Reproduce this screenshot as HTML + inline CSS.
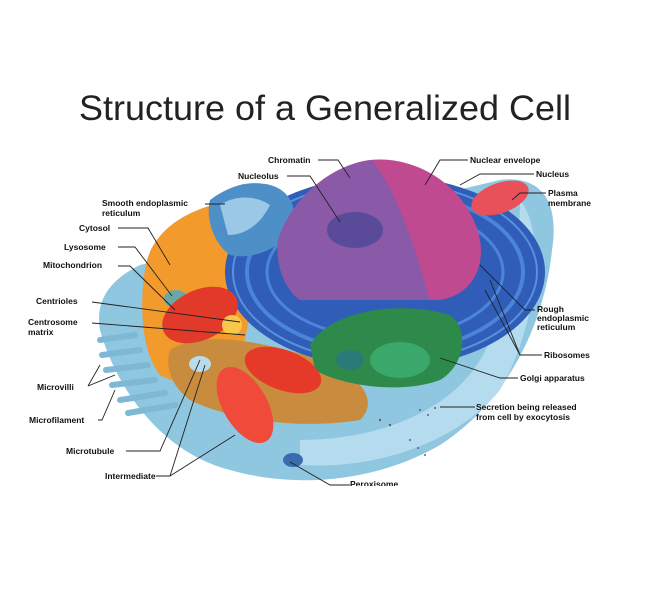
<!DOCTYPE html>
<html><head><meta charset="utf-8"><style>
html,body{margin:0;padding:0;background:#fff;}
svg{display:block;}
.l{font-family:"Liberation Sans",Arial,sans-serif;font-weight:bold;font-size:8.5px;fill:#111;}
.ln{stroke:#222;stroke-width:0.9;fill:none;}
</style></head><body>
<svg width="650" height="600" viewBox="0 0 650 600" xmlns="http://www.w3.org/2000/svg">
<rect width="650" height="600" fill="#fff"/>
<text x="325" y="120" text-anchor="middle" font-family="Liberation Sans, Arial, sans-serif" font-size="35" fill="#222" textLength="492" lengthAdjust="spacingAndGlyphs">Structure of a Generalized Cell</text>

<path d="M100,330 C95,300 110,280 140,265 L500,180 C540,175 560,200 552,250 C545,320 510,400 440,445 C380,480 300,490 230,470 C170,455 120,400 100,330 Z" fill="#8fc6e0"/>
<path d="M520,200 C545,230 540,320 500,390 C460,440 380,470 300,465 L300,440 C380,440 450,410 480,360 C510,310 520,250 520,200 Z" fill="#b5dcee"/>
<g stroke="#7fb8d4" stroke-width="6" stroke-linecap="round" fill="none">
<line x1="100" y1="340" x2="135" y2="335"/><line x1="102" y1="355" x2="140" y2="350"/>
<line x1="106" y1="370" x2="148" y2="365"/><line x1="112" y1="385" x2="155" y2="380"/>
<line x1="120" y1="400" x2="165" y2="393"/><line x1="128" y1="413" x2="175" y2="405"/>
</g>
<path d="M145,270 C150,230 190,205 240,200 L270,215 C260,260 250,320 240,360 C220,390 190,390 160,375 C140,350 140,300 145,270 Z" fill="#f39a2c"/>
<path d="M170,350 C200,330 260,340 320,360 C360,375 380,400 360,420 C300,430 230,420 190,400 C170,385 165,365 170,350 Z" fill="#c98c3e"/>
<ellipse cx="385" cy="272" rx="160" ry="96" fill="#2f5db8"/>
<ellipse cx="385" cy="272" rx="138" ry="80" fill="none" stroke="#4c84d8" stroke-width="4"/>
<ellipse cx="385" cy="272" rx="118" ry="66" fill="none" stroke="#4c84d8" stroke-width="3"/>
<ellipse cx="385" cy="272" rx="152" ry="90" fill="none" stroke="#5a90dc" stroke-width="2"/>
<path d="M210,200 C230,185 250,180 270,185 C290,190 300,210 290,230 C280,250 250,260 230,255 C215,245 205,220 210,200 Z" fill="#4f8fc8"/>
<path d="M220,205 C235,195 255,195 270,205 C260,225 245,235 228,235 Z" fill="#9cc8e8"/>
<path d="M278,240 C290,200 330,165 370,160 C420,155 470,190 480,240 C485,270 470,295 440,300 L300,300 C285,290 275,265 278,240 Z" fill="#c04a90"/>
<path d="M278,240 C290,200 330,165 372,160 C395,190 410,230 430,300 L300,300 C285,290 275,265 278,240 Z" fill="#8a5aa8"/>
<ellipse cx="355" cy="230" rx="28" ry="18" fill="#5a4a9a"/>
<ellipse cx="500" cy="198" rx="30" ry="15" fill="#e8505a" transform="rotate(-20 500 198)"/>
<path d="M310,345 C330,310 400,300 450,315 C470,330 465,365 440,380 C400,395 340,385 315,370 Z" fill="#2e8a4a"/>
<ellipse cx="400" cy="360" rx="30" ry="18" fill="#3aa86a"/>
<ellipse cx="350" cy="360" rx="14" ry="10" fill="#2a7a78"/>
<ellipse cx="176" cy="299" rx="12" ry="9" fill="#6aa8a8"/>
<ellipse cx="200" cy="364" rx="11" ry="8" fill="#b8dcec"/>
<ellipse cx="200" cy="315" rx="40" ry="25" fill="#e23a2a" transform="rotate(-25 200 315)"/>
<ellipse cx="283" cy="370" rx="40" ry="20" fill="#e53a2a" transform="rotate(20 283 370)"/>
<ellipse cx="245" cy="405" rx="22" ry="42" fill="#f04a3a" transform="rotate(-30 245 405)"/>
<circle cx="232" cy="325" r="10" fill="#f7c84a"/>
<ellipse cx="293" cy="460" rx="10" ry="7" fill="#3a6ab0"/>
<g fill="#567">
<circle cx="420" cy="410" r="1"/><circle cx="428" cy="415" r="1"/><circle cx="435" cy="408" r="1"/><circle cx="410" cy="440" r="1"/><circle cx="418" cy="448" r="1"/><circle cx="425" cy="455" r="1"/><circle cx="380" cy="420" r="1.2"/><circle cx="390" cy="425" r="1.2"/>
</g>

<g class="ln">
<polyline points="318,160 338,160 350,178"/>
<polyline points="287,176 310,176 340,222"/>
<polyline points="468,160 440,160 425,185"/>
<polyline points="534,174 480,174 460,185"/>
<polyline points="546,193 520,193 512,200"/>
<polyline points="205,204 225,204"/>
<polyline points="118,228 148,228 170,265"/>
<polyline points="118,247 135,247 172,296"/>
<polyline points="118,266 130,266 175,310"/>
<polyline points="92,302 240,322"/>
<polyline points="92,323 245,335"/>
<polyline points="88,386 100,365"/><polyline points="88,386 115,375"/>
<polyline points="98,420 102,420 115,390"/>
<polyline points="126,451 160,451 200,360"/>
<polyline points="156,476 170,476 205,365"/><polyline points="170,476 235,435"/>
<polyline points="350,485 330,485 290,462"/>
<polyline points="535,310 525,310 480,265"/>
<polyline points="542,355 520,355 490,280"/><polyline points="520,355 485,290"/>
<polyline points="518,378 500,378 440,358"/>
<polyline points="475,407 440,407"/>
</g>

<g class="l">
<text x="268" y="163">Chromatin</text>
<text x="238" y="179">Nucleolus</text>
<text x="470" y="163">Nuclear envelope</text>
<text x="536" y="177">Nucleus</text>
<text x="548" y="196">Plasma</text><text x="548" y="206">membrane</text>
<text x="102" y="206">Smooth endoplasmic</text><text x="102" y="216">reticulum</text>
<text x="79" y="231">Cytosol</text>
<text x="64" y="250">Lysosome</text>
<text x="43" y="268">Mitochondrion</text>
<text x="36" y="304">Centrioles</text>
<text x="28" y="325">Centrosome</text><text x="28" y="335">matrix</text>
<text x="37" y="390">Microvilli</text>
<text x="29" y="423">Microfilament</text>
<text x="66" y="454">Microtubule</text>
<text x="105" y="479">Intermediate</text>
<text x="350" y="487">Peroxisome</text>
<text x="537" y="312">Rough</text><text x="537" y="321">endoplasmic</text><text x="537" y="330">reticulum</text>
<text x="544" y="358">Ribosomes</text>
<text x="520" y="381">Golgi apparatus</text>
<text x="476" y="410">Secretion being released</text><text x="476" y="420">from cell by exocytosis</text>
</g>
<rect x="330" y="486" width="100" height="10" fill="#fff"/>
</svg>
</body></html>
